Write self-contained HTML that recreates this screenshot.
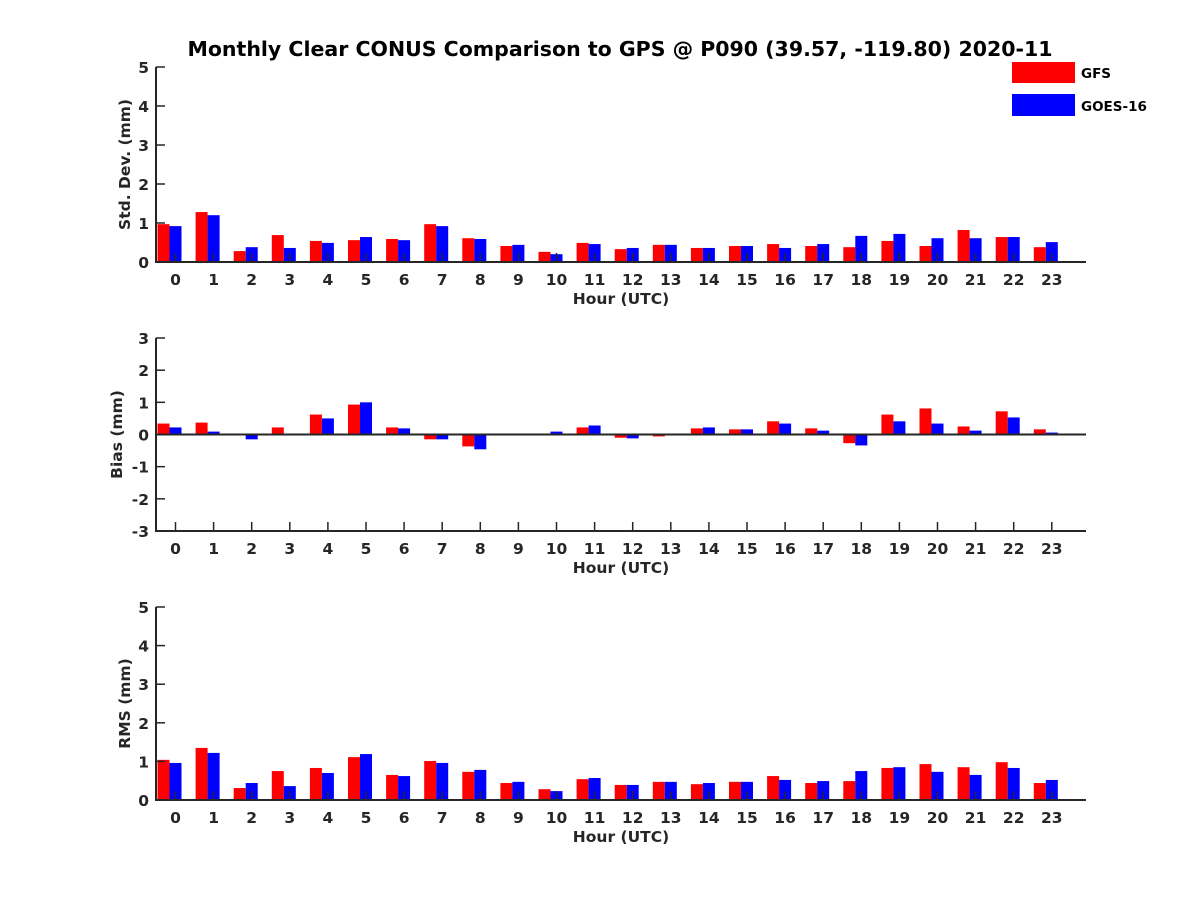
<!DOCTYPE html>
<html><head><meta charset="utf-8"><style>
body{margin:0;background:#fff}
svg text{font-family:"DejaVu Sans","Liberation Sans",sans-serif;font-weight:bold;fill:#262626}
</style></head><body>
<svg id="chart" width="1200" height="900" xmlns="http://www.w3.org/2000/svg">
<text x="620" y="56" text-anchor="middle" font-size="20.5" style="fill:#000">Monthly Clear CONUS Comparison to GPS @ P090 (39.57, -119.80) 2020-11</text>
<g>
<rect x="1012" y="62" width="63" height="21" fill="#ff0000"/>
<text x="1081" y="78" font-size="13.5" style="fill:#000">GFS</text>
<rect x="1012" y="94" width="63" height="22" fill="#0000ff"/>
<text x="1081" y="111" font-size="13.5" style="fill:#000">GOES-16</text>
</g>
</svg>
<script>
const hours=[0,1,2,3,4,5,6,7,8,9,10,11,12,13,14,15,16,17,18,19,20,21,22,23];
const stdGFS=[0.97,1.28,0.28,0.69,0.54,0.56,0.59,0.97,0.61,0.41,0.26,0.49,0.33,0.44,0.36,0.41,0.46,0.41,0.38,0.54,0.41,0.82,0.64,0.38];
const stdGOES=[0.92,1.2,0.38,0.36,0.49,0.64,0.56,0.92,0.59,0.44,0.2,0.46,0.36,0.44,0.36,0.41,0.36,0.46,0.67,0.72,0.61,0.61,0.64,0.51];
const biasGFS=[0.34,0.37,0,0.22,0.62,0.93,0.22,-0.15,-0.37,0,0.02,0.22,-0.1,-0.06,0.19,0.16,0.41,0.19,-0.27,0.62,0.81,0.25,0.72,0.16];
const biasGOES=[0.22,0.09,-0.15,0,0.5,1.0,0.19,-0.15,-0.46,0.03,0.09,0.28,-0.12,-0.03,0.22,0.16,0.34,0.12,-0.34,0.41,0.34,0.12,0.53,0.06];
const rmsGFS=[1.04,1.35,0.31,0.75,0.83,1.11,0.65,1.01,0.73,0.44,0.28,0.54,0.39,0.47,0.41,0.47,0.62,0.44,0.49,0.83,0.93,0.85,0.98,0.44];
const rmsGOES=[0.96,1.22,0.44,0.36,0.70,1.19,0.62,0.96,0.78,0.47,0.23,0.57,0.39,0.47,0.44,0.47,0.52,0.49,0.75,0.85,0.73,0.65,0.83,0.52];
const stdTicks=[0,1,2,3,4,5];
const biasTicks=[-3,-2,-1,0,1,2,3];
const rmsTicks=[0,1,2,3,4,5];

const NS="http://www.w3.org/2000/svg";
const svg=document.getElementById('chart');
function mk(tag,attrs,parent){const e=document.createElementNS(NS,tag);for(const k in attrs)e.setAttribute(k,attrs[k]);(parent||svg).appendChild(e);return e;}
const X0=156,X1=1086;
function xTick(h){return 175.5+38.1*h;}

function panel(key,top,bottom,ymin,ymax,ticks,red,blue,ylabel,ylabelX){
  const g=mk('g',{});
  
  
  const y=v=>bottom-(v-ymin)/(ymax-ymin)*(bottom-top);
  hours.forEach((h,i)=>{
    const cx=xTick(h);
    [[red[i],cx-18,'#ff0000','gfs'],[blue[i],cx-6,'#0000ff','goes']].forEach(([v,x,c,n])=>{
      const y0=y(0),yv=y(v);
      const r=mk('rect',{x:x,y:Math.min(y0,yv),width:12,height:Math.abs(yv-y0),fill:c},g);
      
      
    });
  });
  const ya=mk('line',{x1:X0,y1:top,x2:X0,y2:bottom,stroke:'#262626','stroke-width':2},g);
  
  
  const xa=mk('line',{x1:X0-1,y1:bottom,x2:X1,y2:bottom,stroke:'#262626','stroke-width':2},g);
  
  
  if(ymin<0){
    const zl=mk('line',{x1:X0,y1:y(0),x2:X1,y2:y(0),stroke:'#262626','stroke-width':2},g);
    
    
  }
  ticks.forEach(t=>{
    mk('line',{x1:X0,y1:y(t),x2:X0+9,y2:y(t),stroke:'#262626','stroke-width':1.5},g);
    const tl=mk('text',{x:X0-7,y:y(t)+6,'text-anchor':'end','font-size':15.5},g);
    tl.textContent=t;
    
    
  });
  hours.forEach(h=>{
    const x=xTick(h);
    mk('line',{x1:x,y1:bottom,x2:x,y2:bottom-9,stroke:'#262626','stroke-width':1.5},g);
    const tl=mk('text',{x:x,y:bottom+23,'text-anchor':'middle','font-size':15.5},g);
    tl.textContent=h;
    
    
  });
  const xl=mk('text',{x:621,y:bottom+42,'text-anchor':'middle','font-size':15.5},g);
  xl.textContent='Hour (UTC)';
  
  
  const cy=(top+bottom)/2;
  const yl=mk('text',{x:ylabelX,y:cy,'text-anchor':'middle','font-size':15.5,transform:'rotate(-90 '+ylabelX+' '+cy+')'},g);
  yl.textContent=ylabel;
  
  
}
panel('std',67,262,0,5,stdTicks,stdGFS,stdGOES,'Std. Dev. (mm)',130);
panel('bias',338,531,-3,3,biasTicks,biasGFS,biasGOES,'Bias (mm)',122);
panel('rms',607,800,0,5,rmsTicks,rmsGFS,rmsGOES,'RMS (mm)',130);
</script>
</body></html>
